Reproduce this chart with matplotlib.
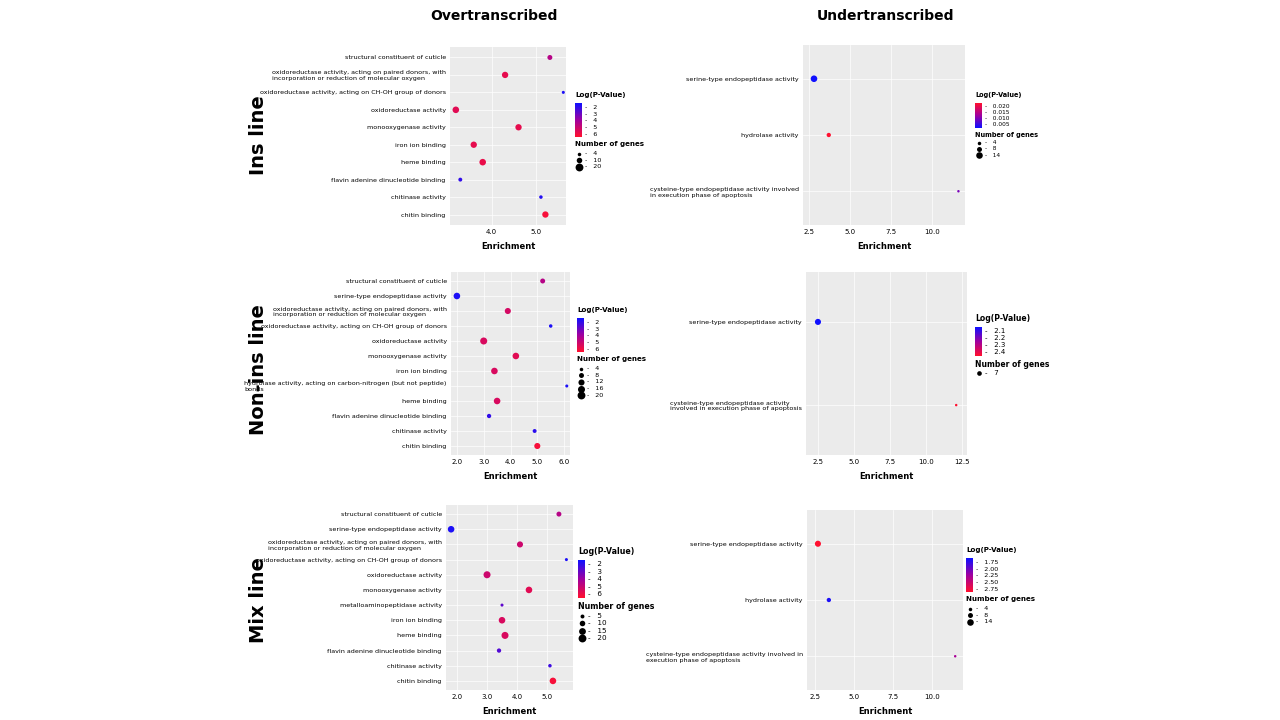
import numpy as np
import matplotlib
matplotlib.use("Agg")
import matplotlib.pyplot as plt
from matplotlib.colors import LinearSegmentedColormap

W, H = 1280, 720
CMAP = LinearSegmentedColormap.from_list("bp", ["#1010FF", "#A000A0", "#FF1030"])

# ---- data (top to bottom) ----
ins_over_terms = ["structural constituent of cuticle",
                  "oxidoreductase activity, acting on paired donors, with\nincorporation or reduction of molecular oxygen",
                  "oxidoreductase activity, acting on CH-OH group of donors",
                  "oxidoreductase activity", "monooxygenase activity", "iron ion binding",
                  "heme binding", "flavin adenine dinucleotide binding", "chitinase activity",
                  "chitin binding"]
ins_over_enr = [5.3, 4.3, 5.6, 3.2, 4.6, 3.6, 3.8, 3.3, 5.1, 5.2]
ins_over_logp = [4.5, 5.6, 2.0, 5.5, 5.6, 5.6, 5.7, 2.3, 2.1, 6.0]
ins_over_genes = [8, 13, 3, 14, 13, 13, 14, 5, 4, 13]

non_over_terms = ["structural constituent of cuticle", "serine-type endopeptidase activity",
                  "oxidoreductase activity, acting on paired donors, with\nincorporation or reduction of molecular oxygen",
                  "oxidoreductase activity, acting on CH-OH group of donors",
                  "oxidoreductase activity", "monooxygenase activity", "iron ion binding",
                  "hydrolase activity, acting on carbon-nitrogen (but not peptide)\nbonds",
                  "heme binding", "flavin adenine dinucleotide binding", "chitinase activity",
                  "chitin binding"]
non_over_enr = [5.2, 2.0, 3.9, 5.5, 3.0, 4.2, 3.4, 6.1, 3.5, 3.2, 4.9, 5.0]
non_over_logp = [4.5, 2.0, 5.2, 2.0, 5.3, 5.5, 5.3, 2.0, 5.3, 2.3, 2.2, 6.0]
non_over_genes = [8, 14, 12, 4, 16, 14, 14, 3, 14, 6, 5, 12]

mix_over_terms = ["structural constituent of cuticle", "serine-type endopeptidase activity",
                  "oxidoreductase activity, acting on paired donors, with\nincorporation or reduction of molecular oxygen",
                  "oxidoreductase activity, acting on CH-OH group of donors",
                  "oxidoreductase activity", "monooxygenase activity",
                  "metalloaminopeptidase activity", "iron ion binding", "heme binding",
                  "flavin adenine dinucleotide binding", "chitinase activity", "chitin binding"]
mix_over_enr = [5.4, 1.8, 4.1, 5.65, 3.0, 4.4, 3.5, 3.5, 3.6, 3.4, 5.1, 5.2]
mix_over_logp = [4.5, 2.0, 5.0, 2.0, 5.0, 5.5, 3.0, 5.3, 5.3, 2.8, 2.5, 6.0]
mix_over_genes = [8, 14, 12, 3, 16, 14, 3, 14, 16, 6, 4, 14]

ins_under_terms = ["serine-type endopeptidase activity", "hydrolase activity",
                   "cysteine-type endopeptidase activity involved\nin execution phase of apoptosis"]
ins_under_enr = [2.8, 3.7, 11.6]
ins_under_logp = [0.002, 0.022, 0.010]
ins_under_genes = [14, 6, 2]

non_under_terms = ["serine-type endopeptidase activity",
                   "cysteine-type endopeptidase activity\ninvolved in execution phase of apoptosis"]
non_under_enr = [2.5, 12.1]
non_under_logp = [2.05, 2.45]
non_under_genes = [12, 2]

mix_under_terms = ["serine-type endopeptidase activity", "hydrolase activity",
                   "cysteine-type endopeptidase activity involved in\nexecution phase of apoptosis"]
mix_under_enr = [2.7, 3.4, 11.5]
mix_under_logp = [2.8, 1.75, 2.3]
mix_under_genes = [12, 6, 2]

fig = plt.figure(figsize=(12.8, 7.2), dpi=100)
fig.patch.set_facecolor("white")


def px_axes(x0, y0, x1, y1):
    return fig.add_axes([x0 / W, 1 - y1 / H, (x1 - x0) / W, (y1 - y0) / H])


def panel(box, terms, enr, logp, genes, xlim, xticks, vlim, fs=4.6):
    ax = px_axes(*box)
    ax.set_facecolor("#EBEBEB")
    n = len(terms)
    y = np.arange(n)
    ax.scatter(enr, y, s=np.array(genes) * 1.6, c=logp, cmap=CMAP,
               vmin=vlim[0], vmax=vlim[1], zorder=3, linewidths=0)
    ax.set_ylim(n - 0.4, -0.6)
    ax.set_xlim(*xlim)
    ax.set_xticks(xticks)
    ax.set_xticklabels([f"{t:.1f}" for t in xticks], fontsize=5)
    ax.set_yticks(y)
    ax.set_yticklabels(terms, fontsize=fs, multialignment="left")
    ax.grid(color="white", lw=0.5, zorder=0)
    ax.tick_params(length=0, pad=3)
    for s in ax.spines.values():
        s.set_visible(False)
    ax.set_xlabel("Enrichment", fontsize=6, fontweight="bold", labelpad=5)
    return ax


def legend(x0, y0, w, h, ctitle, clabels, stitle, slabels, ssizes, fs=5.0, red_top=False):
    lg = px_axes(x0, y0, x0 + w, y0 + h)
    lg.set_xlim(0, w)
    lg.set_ylim(h, 0)
    lg.axis("off")
    step = fs * 1.45
    lg.text(0, 2, ctitle, fontsize=fs + 0.5, fontweight="bold", va="top")
    top = 4 + fs * 2.2
    bh = len(clabels) * step
    grad = np.linspace(0, 1, 50).reshape(-1, 1)
    if red_top:
        grad = grad[::-1]
    lg.imshow(grad, cmap=CMAP, extent=(0, 7, top + bh, top), aspect="auto")
    for i, lab in enumerate(clabels):
        yy = top + step / 2 + i * step
        lg.text(10, yy, "-   " + lab, fontsize=fs, va="center")
    sy = top + bh + 4
    lg.text(0, sy, stitle, fontsize=fs + 0.5, fontweight="bold", va="top")
    for i, (lab, sz) in enumerate(zip(slabels, ssizes)):
        yy = sy + fs * 2.2 + 2 + i * step
        lg.scatter([3.5], [yy], s=sz * 1.6, color="black", linewidths=0)
        lg.text(10, yy, "-   " + lab, fontsize=fs, va="center")


# overtranscribed
panel((450, 47, 566, 225), ins_over_terms, ins_over_enr, ins_over_logp, ins_over_genes,
      (3.07, 5.66), [4.0, 5.0], (1.8, 6.2))
legend(575, 90, 90, 90, "Log(P-Value)", ["2", "3", "4", "5", "6"],
       "Number of genes", ["4", "10", "20"], [4, 10, 20], fs=4.6)

panel((451, 272, 570, 455), non_over_terms, non_over_enr, non_over_logp, non_over_genes,
      (1.78, 6.22), [2.0, 3.0, 4.0, 5.0, 6.0], (1.8, 6.2))
legend(577, 305, 90, 110, "Log(P-Value)", ["2", "3", "4", "5", "6"],
       "Number of genes", ["4", "8", "12", "16", "20"], [4, 8, 12, 16, 20], fs=4.6)

panel((446, 505, 573, 690), mix_over_terms, mix_over_enr, mix_over_logp, mix_over_genes,
      (1.63, 5.87), [2.0, 3.0, 4.0, 5.0], (1.8, 6.2))
legend(578, 545, 90, 120, "Log(P-Value)", ["2", "3", "4", "5", "6"],
       "Number of genes", ["5", "10", "15", "20"], [5, 10, 15, 20], fs=5.2)

# undertranscribed
panel((803, 45, 965, 225), ins_under_terms, ins_under_enr, ins_under_logp, ins_under_genes,
      (2.13, 12.0), [2.5, 5.0, 7.5, 10.0], (0.003, 0.022))
legend(975, 90, 90, 90, "Log(P-Value)", ["0.020", "0.015", "0.010", "0.005"],
       "Number of genes", ["4", "8", "14"], [4, 8, 14], fs=4.2, red_top=True)

panel((806, 272, 967, 455), non_under_terms, non_under_enr, non_under_logp, non_under_genes,
      (1.67, 12.85), [2.5, 5.0, 7.5, 10.0, 12.5], (2.05, 2.45))
legend(975, 312, 90, 90, "Log(P-Value)", ["2.1", "2.2", "2.3", "2.4"],
       "Number of genes", ["7"], [7], fs=5.0)

panel((807, 510, 963, 690), mix_under_terms, mix_under_enr, mix_under_logp, mix_under_genes,
      (2.0, 12.0), [2.5, 5.0, 7.5, 10.0], (1.7, 2.8))
legend(966, 545, 90, 100, "Log(P-Value)", ["1.75", "2.00", "2.25", "2.50", "2.75"],
       "Number of genes", ["4", "8", "14"], [4, 8, 14], fs=4.6)

# titles and row labels
fig.text(494 / W, 1 - 16 / H, "Overtranscribed", ha="center", va="center",
         fontsize=10, fontweight="bold")
fig.text(885 / W, 1 - 16 / H, "Undertranscribed", ha="center", va="center",
         fontsize=10, fontweight="bold")
for lab, yy in [("Ins line", 135), ("Non-ins line", 370), ("Mix line", 600)]:
    fig.text(258 / W, 1 - yy / H, lab, rotation=90, ha="center", va="center",
             fontsize=14, fontweight="bold")

fig.savefig("out.png", dpi=100)
